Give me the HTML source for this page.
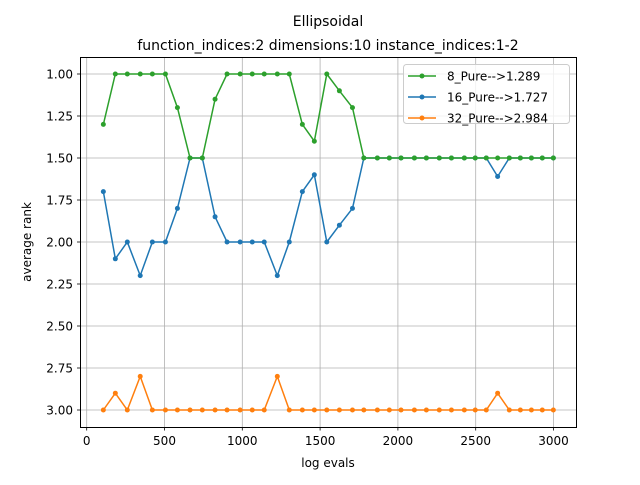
<!DOCTYPE html>
<html><head><meta charset="utf-8"><style>
body{margin:0;background:#fff;}
svg text{font-family:"DejaVu Sans","Liberation Sans",sans-serif;fill:#000;}
</style></head><body>
<svg id="chart" width="640" height="480" xmlns="http://www.w3.org/2000/svg">
<text x="328" y="26" font-size="14" text-anchor="middle">Ellipsoidal</text>
<text x="328" y="50" font-size="14" text-anchor="middle">function_indices:2 dimensions:10 instance_indices:1-2</text>
<g id="grid"></g><g id="series"></g>
<rect x="80.5" y="57.5" width="496" height="370" fill="none" stroke="#000" stroke-width="1"/>
<g id="ticks"></g>
<text x="328" y="467" font-size="12" text-anchor="middle">log evals</text>
<text x="31" y="242" font-size="12" text-anchor="middle" transform="rotate(-90 31 242)">average rank</text>
<g id="legend">
<rect x="403.5" y="64.5" width="166" height="59" rx="3" fill="#fff" fill-opacity="0.8" stroke="#ccc"/>
</g>
</svg>
<script>
const xEvals=[107,184,261,344,422,506,583,664,743,825,902,986,1064,1141,1225,1302,1386,1463,1543,1624,1708,1781,1868,1945,2020,2106,2183,2266,2344,2427,2497,2568,2641,2716,2787,2858,2928,2999];
const green=[1.3,1,1,1,1,1,1.2,1.5,1.5,1.15,1,1,1,1,1,1,1.3,1.4,1,1.1,1.2,1.5,1.5,1.5,1.5,1.5,1.5,1.5,1.5,1.5,1.5,1.5,1.5,1.5,1.5,1.5,1.5,1.5];
const blue=[1.7,2.1,2,2.2,2,2,1.8,1.5,1.5,1.85,2,2,2,2,2.2,2,1.7,1.6,2,1.9,1.8,1.5,1.5,1.5,1.5,1.5,1.5,1.5,1.5,1.5,1.5,1.5,1.61,1.5,1.5,1.5,1.5,1.5];
const orange=[3,2.9,3,2.8,3,3,3,3,3,3,3,3,3,3,2.8,3,3,3,3,3,3,3,3,3,3,3,3,3,3,3,3,3,2.9,3,3,3,3,3];
const xTicks=[0,500,1000,1500,2000,2500,3000];
const yTicks=[1.00,1.25,1.50,1.75,2.00,2.25,2.50,2.75,3.00];
const seriesNames=["8_Pure-->1.289","16_Pure-->1.727","32_Pure-->2.984"];
const seriesColors=["#2ca02c","#1f77b4","#ff7f0e"];
const NS="http://www.w3.org/2000/svg";
const X=v=>86.7+v*0.1556;
const Y=v=>74+(v-1)*168;
function mk(tag,attrs,parent){const e=document.createElementNS(NS,tag);for(const k in attrs)e.setAttribute(k,attrs[k]);parent.appendChild(e);return e;}
const grid=document.getElementById('grid'),ticks=document.getElementById('ticks'),ser=document.getElementById('series'),leg=document.getElementById('legend');
xTicks.forEach(t=>{const x=X(t);
 const g=mk('line',{x1:x,x2:x,y1:58,y2:427,stroke:'#b0b0b0','stroke-width':0.8},grid);
 
 mk('line',{x1:x,x2:x,y1:427,y2:430.5,stroke:'#000','stroke-width':0.8},ticks);
 const l=mk('text',{x:x,y:445,'font-size':12,'text-anchor':'middle'},ticks);l.textContent=t;
 });
yTicks.forEach(t=>{const y=Y(t);
 const g=mk('line',{x1:81,x2:576,y1:y,y2:y,stroke:'#b0b0b0','stroke-width':0.8},grid);
 
 mk('line',{x1:77,x2:80.5,y1:y,y2:y,stroke:'#000','stroke-width':0.8},ticks);
 const l=mk('text',{x:73,y:y+4.5,'font-size':12,'text-anchor':'end'},ticks);l.textContent=t.toFixed(2);
 });
[orange,blue,green].forEach((d,k)=>{const idx=2-k;const c=seriesColors[idx];
 const g=mk('g',{},ser);
 
 
 mk('polyline',{points:d.map((v,i)=>X(xEvals[i])+','+Y(v)).join(' '),fill:'none',stroke:c,'stroke-width':1.5},g);
 d.forEach((v,i)=>{const p=mk('circle',{cx:X(xEvals[i]),cy:Y(v),r:2.5,fill:c},g);
  });});
seriesNames.forEach((n,i)=>{const y=76+i*21;
 const g=mk('g',{},leg);
 
 mk('line',{x1:408,x2:436,y1:y,y2:y,stroke:seriesColors[i],'stroke-width':1.5},g);
 mk('circle',{cx:422,cy:y,r:2.5,fill:seriesColors[i]},g);
 const t=mk('text',{x:447,y:y+4.5,'font-size':12},g);t.textContent=n;});
</script>
</body></html>
